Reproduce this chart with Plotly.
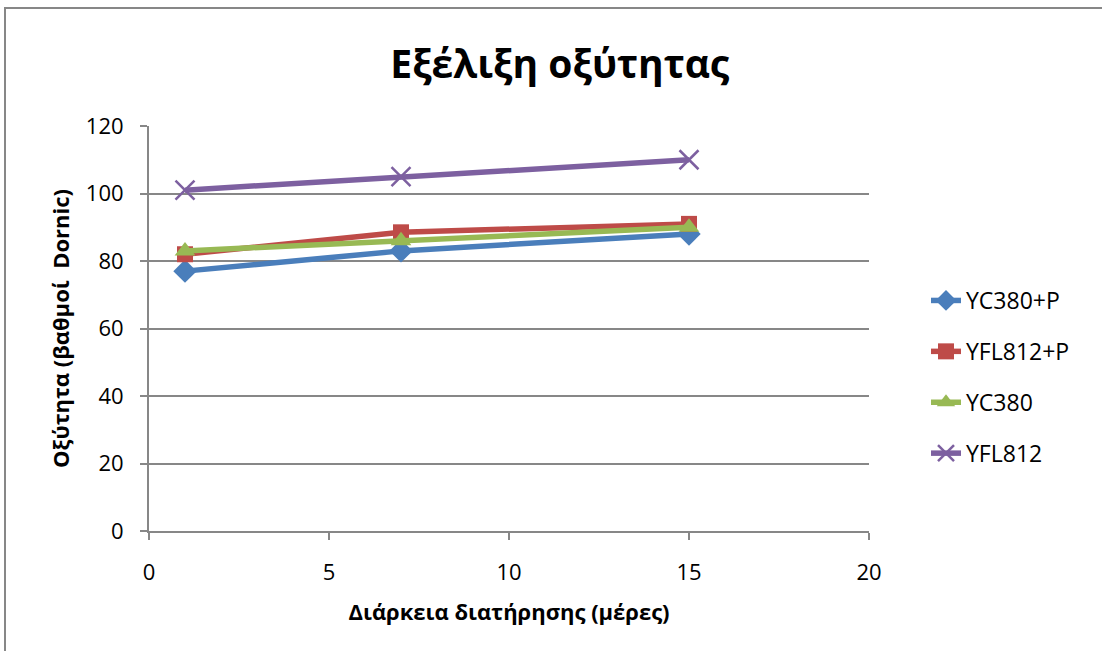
import plotly.graph_objects as go

# Storage time (days) and acidity (Dornic degrees) for each culture
days = [1, 7, 15]
yc380_p = [77, 83, 88]
yfl812_p = [82, 88.5, 91]
yc380 = [83, 86, 90]
yfl812 = [101, 105, 110]

series_names = ["YC380+P", "YFL812+P", "YC380", "YFL812"]
series_values = [yc380_p, yfl812_p, yc380, yfl812]
colors = ["#4A7EBB", "#BE4B48", "#98B954", "#7D60A0"]
symbols = ["diamond", "square", "triangle-up", "x-thin"]
marker_sizes = [18, 16, 18, 19]

FONT = "Open Sans"

fig = go.Figure()
for i, (name, vals) in enumerate(zip(series_names, series_values)):
    sym = symbols[i]
    marker = dict(symbol=sym, size=marker_sizes[i], color=colors[i])
    if sym == "x-thin":
        marker["line"] = dict(color=colors[i], width=2.5)
    fig.add_trace(go.Scatter(
        x=days, y=vals, name=name, mode="lines+markers",
        line=dict(color=colors[i], width=5.5),
        marker=marker,
        legendgroup=name,
    ))

W, H = 1102, 651
ml, mr, mt, mb = 149, 233, 126, 120
pw, ph = W - ml - mr, H - mt - mb

def px_x(px):
    return (px - ml) / pw

def px_y(py):
    return (H - mb - py) / ph

fig.update_layout(
    width=W, height=H,
    margin=dict(l=ml, r=mr, t=mt, b=mb),
    paper_bgcolor="white", plot_bgcolor="white",
    font=dict(family=FONT, color="black"),
    title=dict(text="<b>Εξέλιξη οξύτητας</b>", x=0.508, xanchor="center",
               y=1 - 64 / H, yanchor="middle",
               font=dict(size=39, family=FONT, color="black")),
    xaxis=dict(range=[0, 20], dtick=5, showgrid=False, showline=True,
               linecolor="#878787", linewidth=2, ticks="outside", ticklen=7,
               tickcolor="#878787", tickwidth=1.5, ticklabelstandoff=14,
               tickfont=dict(size=22, family=FONT), zeroline=False,
               title=dict(text="<b>Διάρκεια διατήρησης (μέρες)</b>",
                          font=dict(size=22, family=FONT), standoff=19)),
    yaxis=dict(range=[0, 120], dtick=20, showgrid=True, gridcolor="#878787",
               gridwidth=2, showline=True, linecolor="#878787", linewidth=2,
               ticks="outside", ticklen=7, tickcolor="#878787", tickwidth=1.5,
               ticklabelstandoff=12,
               tickfont=dict(size=22, family=FONT), zeroline=False,
               title=dict(text="<b>Οξύτητα (βαθμοί\u00a0 Dornic)</b>",
                          font=dict(size=22, family=FONT), standoff=10)),
    legend=dict(x=px_x(926), y=px_y(279), xanchor="left", yanchor="top",
                font=dict(size=23, family=FONT), tracegroupgap=18,
                bgcolor="rgba(0,0,0,0)"),
    shapes=[dict(type="rect", xref="paper", yref="paper",
                 x0=px_x(5), x1=px_x(1110), y0=px_y(660), y1=px_y(8),
                 line=dict(color="#878787", width=2), layer="below")],
)

fig.write_html("out.html")
